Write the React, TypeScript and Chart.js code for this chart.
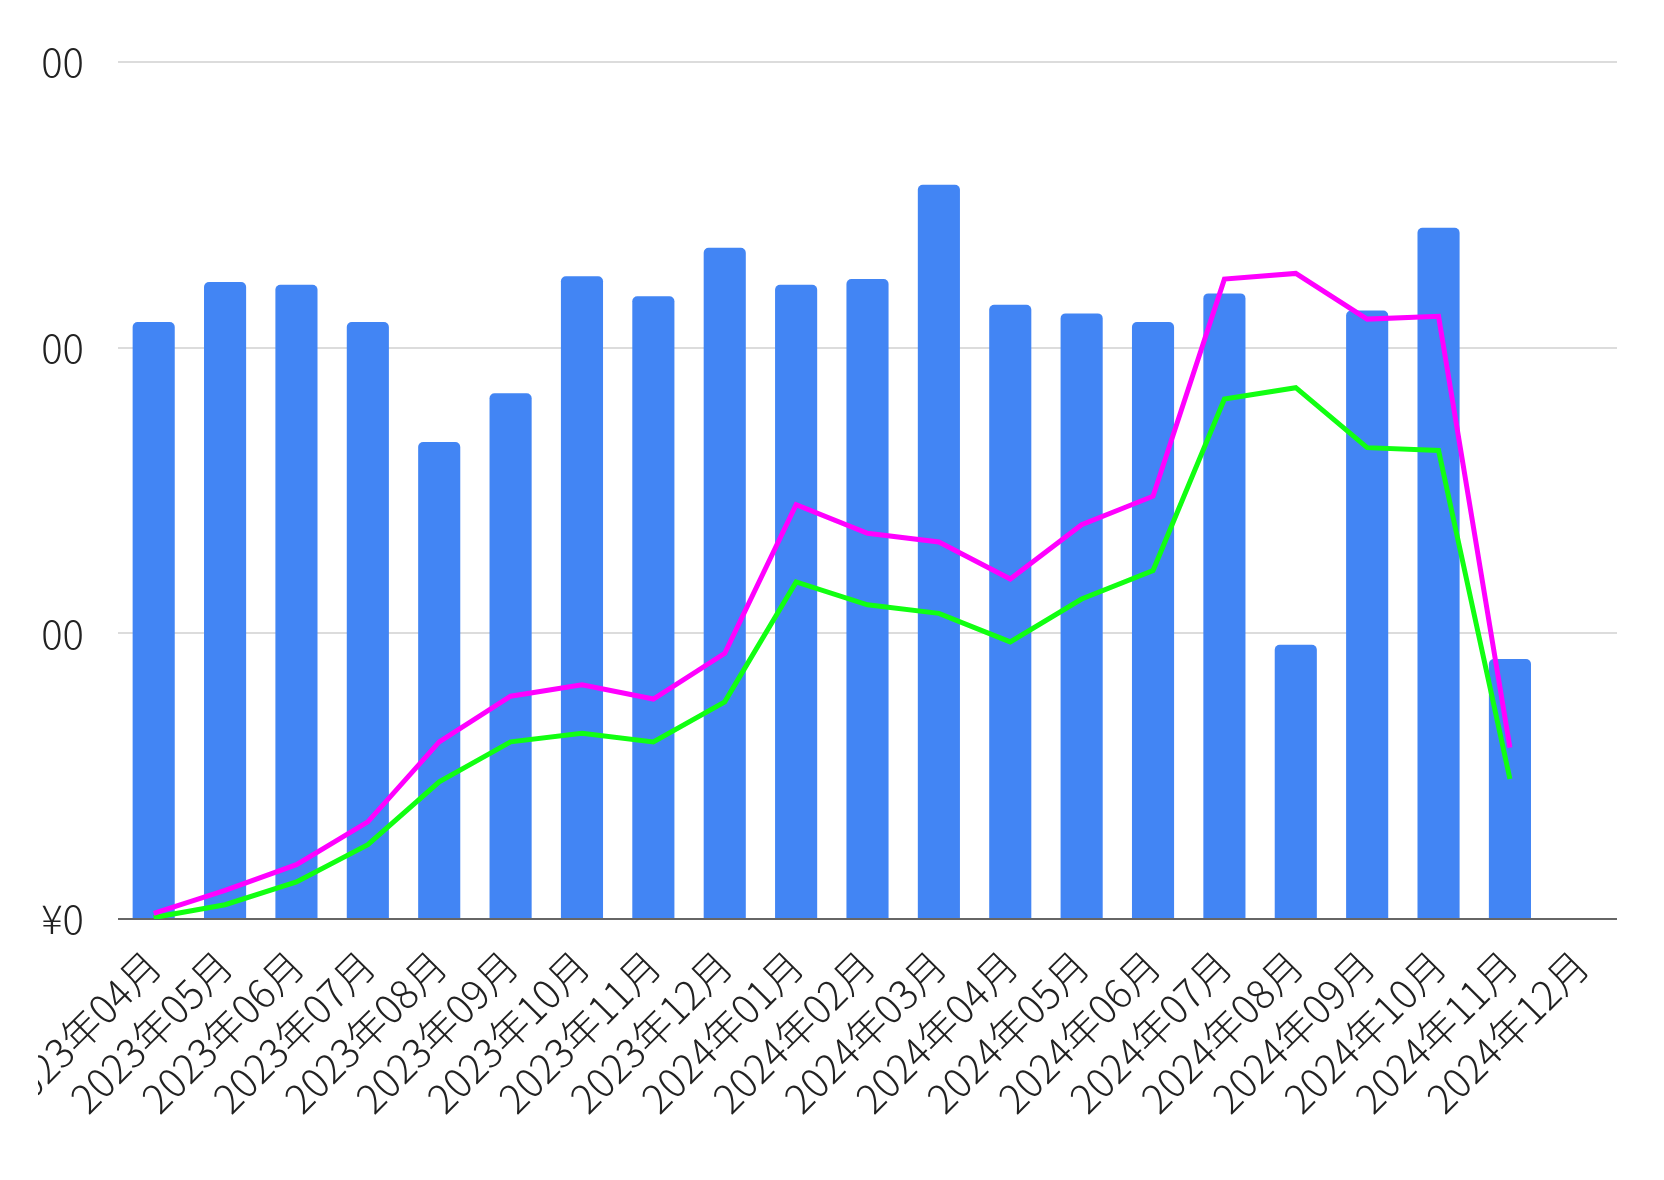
import React, { useEffect, useRef } from 'react';
import { Chart, registerables } from 'chart.js';

Chart.register(...registerables);

const categories = [
  '2023年04月', '2023年05月', '2023年06月', '2023年07月', '2023年08月', '2023年09月',
  '2023年10月', '2023年11月', '2023年12月', '2024年01月', '2024年02月', '2024年03月',
  '2024年04月', '2024年05月', '2024年06月', '2024年07月', '2024年08月', '2024年09月',
  '2024年10月', '2024年11月', '2024年12月',
];

const barValues = [
  2.09, 2.23, 2.22, 2.09, 1.67, 1.84, 2.25, 2.18, 2.35, 2.22, 2.24, 2.57,
  2.15, 2.12, 2.09, 2.19, 0.96, 2.13, 2.42, 0.91, null,
];

const magentaValues = [
  0.02, 0.10, 0.19, 0.34, 0.62, 0.78, 0.82, 0.77, 0.93, 1.45, 1.35, 1.32,
  1.19, 1.38, 1.48, 2.24, 2.26, 2.10, 2.11, 0.60, null,
];

const greenValues = [
  0.005, 0.05, 0.13, 0.26, 0.48, 0.62, 0.65, 0.62, 0.76, 1.18, 1.10, 1.07,
  0.97, 1.12, 1.22, 1.82, 1.86, 1.65, 1.64, 0.49, null,
];

const yTickValues = [0, 1, 2, 3];
const yTickLabels = ['¥0', '00', '00', '00'];

const FONT = "'Noto Sans CJK JP', 'Noto Sans', sans-serif";

export default function App() {
  const canvasRef = useRef<HTMLCanvasElement | null>(null);

  useEffect(() => {
    const canvas = canvasRef.current;
    if (!canvas) return;
    const chart = new Chart(canvas, {
      type: 'bar',
      data: {
        labels: categories,
        datasets: [
          {
            type: 'line',
            label: 'magenta',
            data: magentaValues,
            borderColor: '#ff00ff',
            backgroundColor: '#ff00ff',
            borderWidth: 5,
            pointRadius: 0,
            tension: 0,
            fill: false,
            order: 1,
          },
          {
            type: 'line',
            label: 'green',
            data: greenValues,
            borderColor: '#11ff11',
            backgroundColor: '#11ff11',
            borderWidth: 5,
            pointRadius: 0,
            tension: 0,
            fill: false,
            order: 2,
          },
          {
            type: 'bar',
            label: 'bars',
            data: barValues,
            backgroundColor: '#4285f4',
            borderRadius: 5,
            categoryPercentage: 1,
            barPercentage: 0.59,
            order: 3,
          },
        ],
      },
      options: {
        responsive: false,
        animation: false,
        devicePixelRatio: 1,
        layout: { padding: { top: 62, right: 20, bottom: 61, left: 0 } },
        plugins: {
          legend: { display: false },
          tooltip: { enabled: false },
        },
        scales: {
          x: {
            grid: { display: false },
            border: { display: false },
            ticks: {
              autoSkip: false,
              maxRotation: 45,
              minRotation: 45,
              padding: 14,
              color: '#222',
              font: { family: FONT, size: 40, weight: '300' },
            },
            afterFit: (scale: any) => {
              scale.height = 200;
            },
          },
          y: {
            min: 0,
            max: 3,
            border: { display: false },
            grid: {
              drawTicks: false,
              lineWidth: 2,
              color: (ctx: any) => (ctx.tick && ctx.tick.value === 0 ? '#666666' : '#dcdcdc'),
            },
            ticks: {
              stepSize: 1,
              padding: 34,
              color: '#222',
              font: { family: FONT, size: 40, weight: '300' },
              callback: (v: any) => {
                const i = yTickValues.indexOf(Number(v));
                return i >= 0 ? yTickLabels[i] : '';
              },
            },
            afterFit: (scale: any) => {
              scale.width = 203;
            },
          },
        },
      },
    });
    return () => chart.destroy();
  }, []);

  return (
    <div
      style={{
        position: 'absolute',
        left: 0,
        top: 0,
        width: 1664,
        height: 1180,
        overflow: 'hidden',
        background: '#fff',
      }}
    >
      <div
        style={{
          position: 'absolute',
          left: 38,
          top: 0,
          width: 1626,
          height: 1180,
          overflow: 'hidden',
        }}
      >
        <canvas
          ref={canvasRef}
          width={1722}
          height={1180}
          style={{ position: 'absolute', left: -123, top: 0, width: 1722, height: 1180 }}
        />
      </div>
    </div>
  );
}
